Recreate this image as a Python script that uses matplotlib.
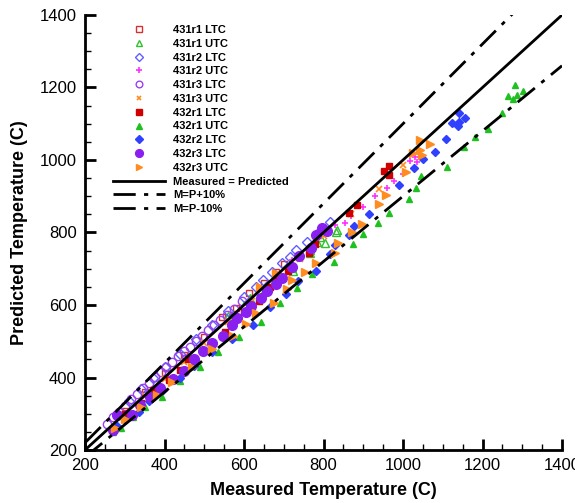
import matplotlib.pyplot as plt
import numpy as np

plt.rcParams['font.family'] = ['Liberation Sans', 'DejaVu Sans']

# measured (x) / predicted (y) temperatures
r431_1_ltc_x = [300, 350, 400, 450, 500, 544, 580, 613, 650, 680, 700]
r431_1_ltc_y = [308, 360, 412, 462, 512, 566, 592, 632, 662, 690, 712]

r431_1_utc_x = [560, 600, 615, 650, 690, 720, 724, 766, 766, 783, 791, 805, 831, 833]
r431_1_utc_y = [570, 600, 618, 640, 680, 701, 695, 743, 752, 775, 787, 772, 802, 807]

r431_2_ltc_x = [280, 310, 340, 370, 400, 440, 480, 520, 560, 600, 630, 649, 670, 695, 716, 732, 758, 790, 816]
r431_2_ltc_y = [300, 335, 368, 398, 428, 465, 505, 545, 583, 622, 650, 669, 692, 717, 732, 752, 775, 805, 830]

r431_2_utc_x = [720, 760, 800, 830, 854, 870, 900, 930, 959, 978, 1001, 1018, 1030, 1034, 1045]
r431_2_utc_y = [724, 752, 800, 820, 825, 845, 870, 900, 922, 942, 960, 998, 1007, 995, 1007]

r431_3_ltc_x = [255, 270, 285, 300, 315, 330, 345, 360, 375, 390, 405, 420, 435, 450, 464, 480, 495, 510, 525, 540, 556, 575, 595]
r431_3_ltc_y = [272, 290, 305, 322, 340, 355, 372, 386, 402, 415, 430, 444, 458, 472, 485, 502, 515, 530, 545, 560, 572, 590, 610]

r431_3_utc_x = [300, 350, 400, 450, 500, 560, 620, 680, 740, 800, 870, 940, 1000]
r431_3_utc_y = [300, 348, 396, 444, 495, 552, 612, 672, 728, 790, 852, 920, 985]

r432_1_ltc_x = [300, 340, 372, 411, 439, 460, 517, 552, 600, 638, 665, 684, 711, 763, 779, 865, 885, 953, 965, 965]
r432_1_ltc_y = [298, 330, 365, 393, 421, 450, 485, 525, 580, 612, 650, 672, 695, 743, 768, 855, 876, 970, 983, 959]

r432_1_utc_x = [270, 290, 320, 350, 393, 439, 489, 535, 588, 644, 691, 734, 772, 827, 873, 900, 938, 966, 1016,
                1033, 1046, 1110, 1153, 1181, 1213, 1248, 1277, 1263, 1283, 1286, 1301]
r432_1_utc_y = [250, 262, 292, 318, 345, 391, 430, 471, 513, 554, 605, 646, 686, 718, 767, 796, 825, 855, 892,
                923, 957, 981, 1035, 1063, 1086, 1130, 1168, 1177, 1207, 1180, 1190]

r432_2_ltc_x = [280, 300, 336, 360, 395, 440, 475, 520, 571, 623, 665, 706, 737, 782, 816, 828, 864, 877, 915,
                990, 1027, 1050, 1081, 1108, 1124, 1138, 1140, 1142, 1155]
r432_2_ltc_y = [265, 282, 306, 335, 365, 400, 432, 471, 505, 545, 594, 630, 666, 695, 740, 766, 793, 819, 851,
                931, 979, 1002, 1022, 1057, 1103, 1095, 1106, 1129, 1116]

r432_3_ltc_x = [270, 280, 317, 338, 363, 389, 421, 450, 475, 498, 519, 546, 569, 583, 604, 617, 644, 657, 680,
                695, 722, 738, 769, 782, 795, 810]
r432_3_ltc_y = [255, 297, 297, 324, 345, 370, 395, 419, 451, 473, 496, 515, 545, 563, 581, 597, 618, 639, 658,
                674, 706, 735, 758, 794, 812, 804]

r432_3_utc_x = [275, 300, 340, 380, 420, 470, 520, 572, 604, 630, 640, 675, 680, 707, 722, 754, 780, 829, 836,
                871, 898, 940, 956, 1008, 1024, 1043, 1049, 1043, 1068]
r432_3_utc_y = [262, 285, 318, 352, 388, 430, 480, 515, 548, 579, 650, 605, 689, 643, 669, 691, 715, 744, 770,
                800, 823, 878, 903, 968, 1020, 1028, 1014, 1054, 1043]

line_x = np.array([200, 1400])

series = [
    ('431r1 LTC', r431_1_ltc_x, r431_1_ltc_y, dict(marker='s', mfc='none', mec='#d83030', ms=5)),
    ('431r1 UTC', r431_1_utc_x, r431_1_utc_y, dict(marker='^', mfc='none', mec='#30c030', ms=6)),
    ('431r2 LTC', r431_2_ltc_x, r431_2_ltc_y, dict(marker='D', mfc='none', mec='#6060ff', ms=5)),
    ('431r2 UTC', r431_2_utc_x, r431_2_utc_y, dict(marker='+', color='#ff30ff', ms=5, mew=1.2)),
    ('431r3 LTC', r431_3_ltc_x, r431_3_ltc_y, dict(marker='o', mfc='none', mec='#9a40f0', ms=6)),
    ('431r3 UTC', r431_3_utc_x, r431_3_utc_y, dict(marker='x', color='#ff8c20', ms=4, mew=1.2)),
    ('432r1 LTC', r432_1_ltc_x, r432_1_ltc_y, dict(marker='s', color='#d00000', ms=5)),
    ('432r1 UTC', r432_1_utc_x, r432_1_utc_y, dict(marker='^', color='#20c020', ms=5)),
    ('432r2 LTC', r432_2_ltc_x, r432_2_ltc_y, dict(marker='D', color='#3040ff', ms=4.5)),
    ('432r3 LTC', r432_3_ltc_x, r432_3_ltc_y, dict(marker='o', color='#8a20f0', ms=7)),
    ('432r3 UTC', r432_3_utc_x, r432_3_utc_y, dict(marker='>', color='#ff8c20', ms=5.5)),
]

fig = plt.figure(figsize=(5.75, 5.03), dpi=100)
ax = fig.add_axes([85 / 575, 53 / 503, 477 / 575, 435 / 503])

for name, xs, ys, st in series:
    ax.plot(xs, ys, linestyle='none', label=name, **st)

dd = (8, 3, 1.5, 3)
ax.plot(line_x, line_x, color='black', lw=2, label='Measured = Predicted')
ax.plot(line_x, 1.1 * line_x, color='black', lw=2, dashes=dd, label='M=P+10%')
ax.plot(line_x, 0.9 * line_x, color='black', lw=2, dashes=dd, label='M=P-10%')

ax.set_xlim(200, 1400)
ax.set_ylim(200, 1400)
ax.set_xticks(np.arange(200, 1401, 200))
ax.set_yticks(np.arange(200, 1401, 200))
ax.set_xticks(np.arange(200, 1401, 50), minor=True)
ax.set_yticks(np.arange(200, 1401, 50), minor=True)
ax.tick_params(which='major', direction='in', length=8, width=2, labelsize=12, pad=6)
ax.tick_params(which='minor', direction='in', length=4, width=1)
ax.spines['top'].set_visible(False)
ax.spines['right'].set_visible(False)
ax.spines['left'].set_linewidth(2)
ax.spines['bottom'].set_linewidth(2)

ax.set_xlabel('Measured Temperature (C)', fontsize=13, fontweight='bold', labelpad=6)
ax.set_ylabel('Predicted Temperature (C)', fontsize=13, fontweight='bold', labelpad=8)

leg = ax.legend(loc='upper left', bbox_to_anchor=(113 / 575, 1 - 25 / 503),
                bbox_transform=fig.transFigure, frameon=False, numpoints=1,
                prop={'size': 8, 'weight': 'bold'}, handlelength=4.7,
                handletextpad=0.7, labelspacing=0.34, borderpad=0, borderaxespad=0,
                markerscale=0.8)

fig.savefig('out.png', dpi=100)
